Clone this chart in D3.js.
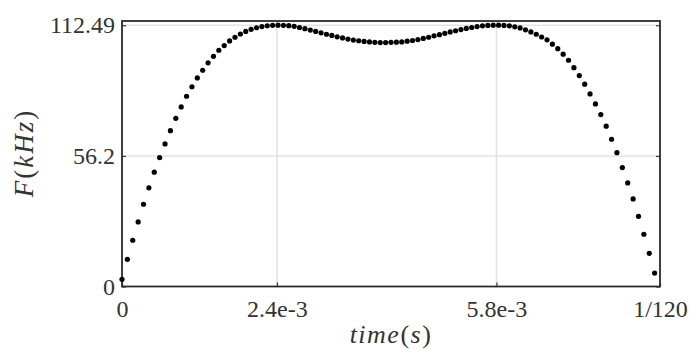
<!DOCTYPE html>
<html>
<head>
<meta charset="utf-8">
<script src="https://cdn.jsdelivr.net/npm/d3@7"></script>
<style>
  body { margin: 0; background: #fff; }
  .tick text { font-family: 'Liberation Serif', 'Times New Roman', serif; font-size: 24px; fill: #333; }
</style>
</head>
<body>
<svg id="chart" width="696" height="358"></svg>
<script>
// sample index -> time step of 1/12000 s (100 samples)
const step = 1 / 12000
const force = [
  3.1, 11.7, 19.9, 27.8, 35.4, 42.5, 49.2, 55.5, 61.4, 67.1,
  72.4, 77.3, 81.9, 86.0, 89.8, 93.1, 96.3, 99.1, 101.7, 103.7,
  105.7, 107.3, 108.7, 109.8, 110.7, 111.4, 111.9, 112.25, 112.45, 112.49,
  112.45, 112.3, 112.0, 111.5, 111.0, 110.4, 109.8, 109.2, 108.6, 108.1,
  107.5, 107.0, 106.5, 106.1, 105.8, 105.5, 105.3, 105.1, 105.0, 105.0,
  105.1, 105.2, 105.3, 105.6, 105.9, 106.3, 106.8, 107.3, 107.9, 108.4,
  109.0, 109.6, 110.1, 110.6, 111.1, 111.5, 111.9, 112.2, 112.4, 112.49,
  112.49, 112.4, 112.2, 111.8, 111.3, 110.5, 109.6, 108.6, 107.4, 106.2,
  104.3, 102.4, 100.0, 97.4, 94.2, 90.8, 87.1, 82.9, 78.6, 74.0,
  69.0, 63.4, 57.6, 51.2, 44.6, 37.7, 30.2, 22.5, 14.3, 5.8
]
const xTicks = [0, 2.4e-3, 5.8e-3, 1 / 120]
const xTickLabels = ['0', '2.4e-3', '5.8e-3', '1/120']
const yTicks = [0, 56.2, 112.49]
const yTickLabels = ['0', '56.2', '112.49']

const svg = d3.select('#chart')
const plotLeft = 122, plotRight = 660, plotTop = 21, plotBottom = 286.5

const x = d3.scaleLinear().domain([0, 1 / 120]).range([plotLeft, plotRight])
const y = d3.scaleLinear().domain([0, 112.49]).range([plotBottom, 25.2])

// light grid lines at each tick
svg.append('g')
  .selectAll('line')
  .data(xTicks.slice(1, -1))
  .join('line')
  .attr('x1', d => x(d)).attr('x2', d => x(d))
  .attr('y1', plotTop).attr('y2', plotBottom)
  .attr('stroke', '#e3e3e3').attr('stroke-width', 1.6)
svg.append('g')
  .selectAll('line')
  .data(yTicks.slice(1))
  .join('line')
  .attr('x1', plotLeft).attr('x2', plotRight)
  .attr('y1', d => y(d)).attr('y2', d => y(d))
  .attr('stroke', '#e3e3e3').attr('stroke-width', 1.6)

// axes with small inward ticks
const xAxis = svg.append('g')
  .attr('transform', 'translate(0,' + plotBottom + ')')
  .call(d3.axisBottom(x).tickValues(xTicks).tickFormat((d, i) => xTickLabels[i]).tickSize(-4).tickPadding(13))
const yAxis = svg.append('g')
  .attr('transform', 'translate(' + plotLeft + ',0)')
  .call(d3.axisLeft(y).tickValues(yTicks).tickFormat((d, i) => yTickLabels[i]).tickSize(-4).tickPadding(7))
const yAxisRight = svg.append('g')
  .attr('transform', 'translate(' + plotRight + ',0)')
  .call(d3.axisRight(y).tickValues(yTicks).tickFormat('').tickSize(-4))

;[xAxis, yAxis, yAxisRight].forEach(a => {
  a.select('.domain').remove()
  a.selectAll('.tick line').attr('stroke', '#333').attr('stroke-width', 1.2)
})

// frame round the plot
svg.append('rect')
  .attr('x', plotLeft).attr('y', plotTop)
  .attr('width', plotRight - plotLeft).attr('height', plotBottom - plotTop)
  .attr('fill', 'none').attr('stroke', '#2a2a2a').attr('stroke-width', 1.8)

// the dots
svg.append('g')
  .selectAll('circle')
  .data(force)
  .join('circle')
  .attr('cx', (d, i) => x(i * step))
  .attr('cy', d => y(d))
  .attr('r', 2.6)
  .attr('fill', '#000')

// axis titles, LaTeX-ish (wider spacing like computer modern)
const xTitle = svg.append('text')
  .attr('x', 391).attr('y', 343)
  .attr('text-anchor', 'middle')
  .style('font-family', "'Liberation Serif', serif").style('font-size', '26px')
  .style('letter-spacing', '1.5px').attr('fill', '#333')
xTitle.append('tspan').style('font-style', 'italic').text('time')
xTitle.append('tspan').text('(')
xTitle.append('tspan').style('font-style', 'italic').text('s')
xTitle.append('tspan').text(')')

const yTitle = svg.append('text')
  .attr('transform', 'translate(33,153) rotate(-90)')
  .attr('text-anchor', 'middle')
  .style('font-family', "'Liberation Serif', serif").style('font-size', '27px')
  .style('letter-spacing', '2px').attr('fill', '#333')
yTitle.append('tspan').style('font-style', 'italic').text('F')
yTitle.append('tspan').text('(')
yTitle.append('tspan').style('font-style', 'italic').text('kHz')
yTitle.append('tspan').text(')')
</script>
</body>
</html>
